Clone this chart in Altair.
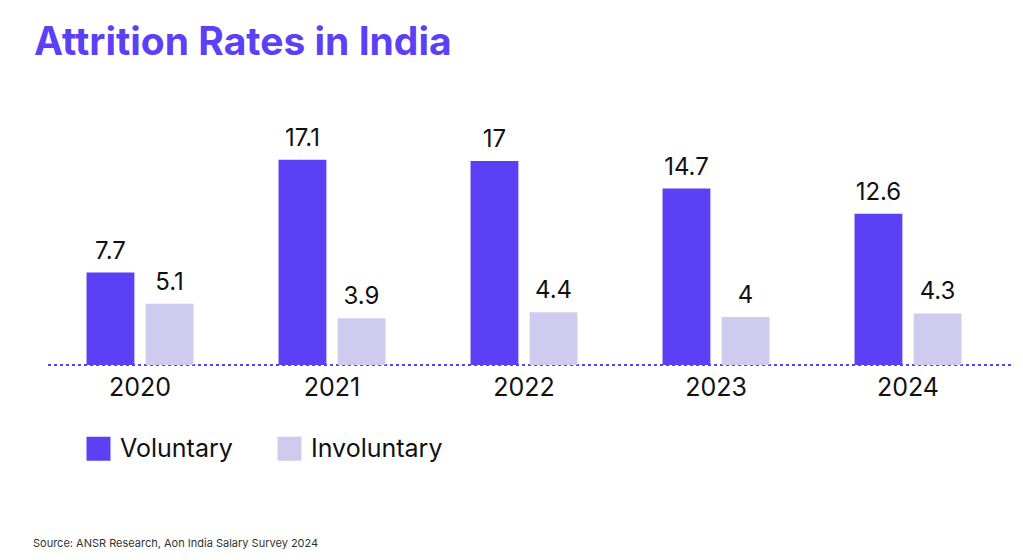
import altair as alt
import pandas as pd

years = ["2020", "2021", "2022", "2023", "2024"]
voluntary = [7.7, 17.1, 17, 14.7, 12.6]
involuntary = [5.1, 3.9, 4.4, 4, 4.3]
series = ["Voluntary", "Involuntary"]
colors = ["#5B40F6", "#CFCBEF"]
source_text = "Source: ANSR Research, Aon India Salary Survey 2024"

rows = []
for i, y in enumerate(years):
    rows.append({"year": y, "type": "Voluntary", "value": voluntary[i], "label": f"{voluntary[i]:g}"})
    rows.append({"year": y, "type": "Involuntary", "value": involuntary[i], "label": f"{involuntary[i]:g}"})
df = pd.DataFrame(rows)

FONT = "Inter"

x = alt.X("year:N", title=None, sort=years,
          scale=alt.Scale(paddingInner=0, paddingOuter=0),
          axis=alt.Axis(labelAngle=0, labelFontSize=25, labelFont=FONT, labelColor="#111111",
                        ticks=False, domain=False, labelPadding=10))
xo = alt.XOffset("type:N", sort=series, scale=alt.Scale(paddingInner=0.19, paddingOuter=0.72))
y = alt.Y("value:Q", title=None, scale=alt.Scale(domain=[0, 22], nice=False),
          axis=None)

bars = alt.Chart(df).mark_bar().encode(
    x=x, xOffset=xo, y=y,
    color=alt.Color("type:N", sort=series, title=None,
                    scale=alt.Scale(domain=series, range=colors),
                    legend=alt.Legend(orient="none", legendX=42, legendY=335, direction="horizontal",
                                      symbolType="square", symbolSize=576, symbolStrokeWidth=0,
                                      labelFontSize=25, labelFont=FONT, labelColor="#111111",
                                      columnPadding=44, labelOffset=9)),
)

labels = alt.Chart(df).mark_text(dy=-21, fontSize=24, font=FONT, color="#111111").encode(
    x=x, xOffset=xo, y=y, text="label:N"
)

rule = alt.Chart(pd.DataFrame({"v": [0]})).mark_rule(
    color="#5B40F6", strokeWidth=2, strokeDash=[3, 3]
).encode(y=alt.Y("v:Q", scale=alt.Scale(domain=[0, 22], nice=False), axis=None),
         x=alt.value(4), x2=alt.value(967))

source = alt.Chart(pd.DataFrame({"t": [source_text]})).mark_text(
    align="left", baseline="alphabetic", fontSize=11, font=FONT, color="#333333"
).encode(text="t:N", x=alt.value(-11), y=alt.value(446))

chart = alt.layer(rule, bars, labels, source).properties(
    width=960, height=264,
    title=alt.TitleParams("Attrition Rates in India", anchor="start", fontSize=39, font=FONT,
                          fontWeight="bold", color="#5B40F6", dx=1, offset=38),
    padding={"left": 25, "top": 16, "right": 0, "bottom": 0},
).configure_view(stroke=None).resolve_scale(y="shared")

chart.save("out.html", embed_options={"renderer": "svg", "actions": False})
